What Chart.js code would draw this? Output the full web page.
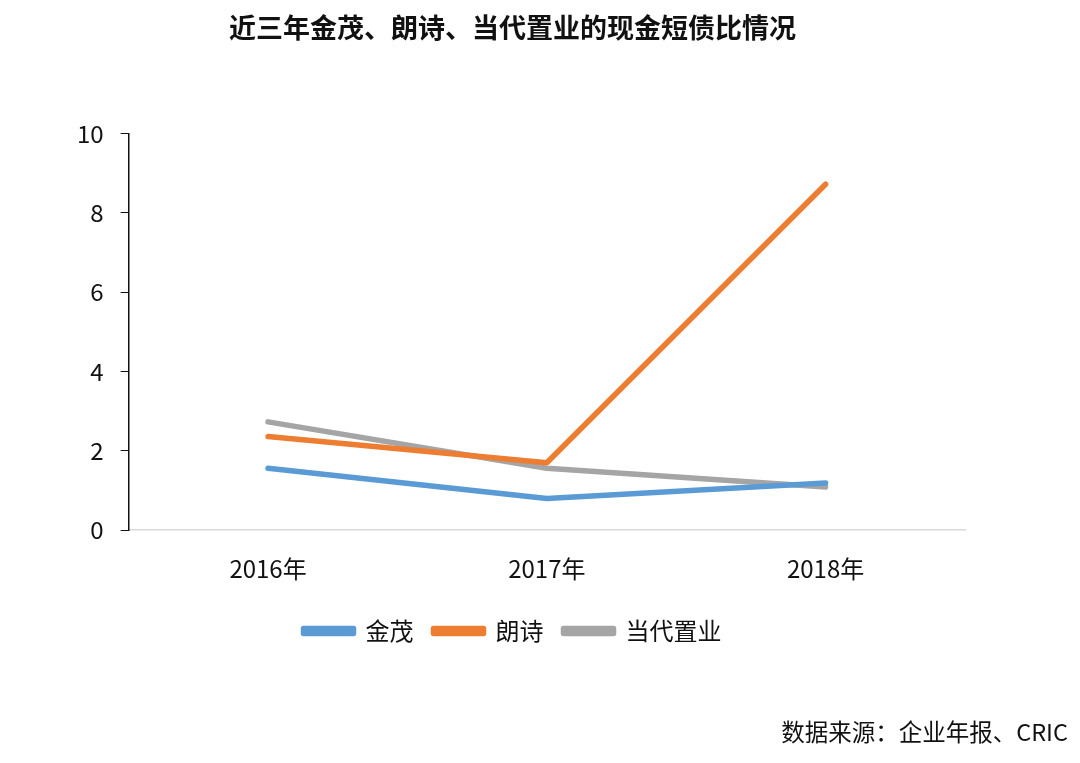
<!DOCTYPE html>
<html>
<head>
<meta charset="utf-8">
<script src="https://cdn.jsdelivr.net/npm/chart.js@4"></script>
<style>
  body { margin: 0; background: #fff; }
  #wrap { position: relative; width: 1080px; height: 763px; }
  #source {
    position: absolute; right: 12px; top: 714px;
    font-family: "Noto Sans CJK SC", sans-serif; font-size: 23.5px; color: #111;
  }
</style>
</head>
<body>
<div id="wrap">
  <canvas id="draw-on-me" width="1080" height="763"></canvas>
  <div id="source">数据来源：企业年报、CRIC</div>
</div>
<script>
'use strict';

const years = ['2016年', '2017年', '2018年'];
const jinmao = [1.56, 0.80, 1.19];   // 金茂
const langshi = [2.36, 1.70, 8.72];  // 朗诗
const dangdai = [2.73, 1.56, 1.09];  // 当代置业
const yTicks = [0, 2, 4, 6, 8, 10];

const font = '"Noto Sans CJK SC", "Noto Sans", sans-serif';

function lineSet (label, data, color) {
  return {
    label: label,
    data: data,
    borderColor: color,
    backgroundColor: color,
    borderWidth: 5.5,
    pointRadius: 0,
    tension: 0,
    borderCapStyle: 'round',
    borderJoinStyle: 'round'
  };
}

let ctx = document.getElementById('draw-on-me').getContext('2d');

new Chart(ctx, {
  type: 'line',
  data: {
    labels: years,
    datasets: [
      lineSet('金茂', jinmao, '#5B9BD5'),
      lineSet('朗诗', langshi, '#ED7D31'),
      lineSet('当代置业', dangdai, '#A5A5A5')
    ]
  },
  options: {
    responsive: false,
    animation: false,
    layout: { padding: { left: 60, right: 115, top: 0, bottom: 110 } },
    plugins: {
      title: {
        display: true,
        text: '近三年金茂、朗诗、当代置业的现金短债比情况',
        color: '#111',
        font: { family: font, size: 27, weight: 'bold' },
        padding: { top: 12, bottom: 89 }
      },
      legend: {
        position: 'bottom',
        labels: {
          color: '#111',
          font: { family: font, size: 24 },
          boxWidth: 50,
          boxHeight: 5,
          padding: 20
        }
      },
      tooltip: { enabled: false }
    },
    scales: {
      x: {
        offset: true,
        grid: { display: false },
        border: { color: '#d9d9d9', width: 1.5 },
        ticks: { color: '#111', font: { family: font, size: 24 }, padding: 16 }
      },
      y: {
        min: 0,
        max: 10,
        afterBuildTicks: axis => { axis.ticks = yTicks.map(v => ({ value: v })); },
        grid: { drawOnChartArea: false, color: '#111', tickLength: 8 },
        border: { color: '#111', width: 1.5 },
        ticks: { color: '#111', font: { family: font, size: 24 }, padding: 17 }
      }
    }
  }
});
</script>
</body>
</html>
